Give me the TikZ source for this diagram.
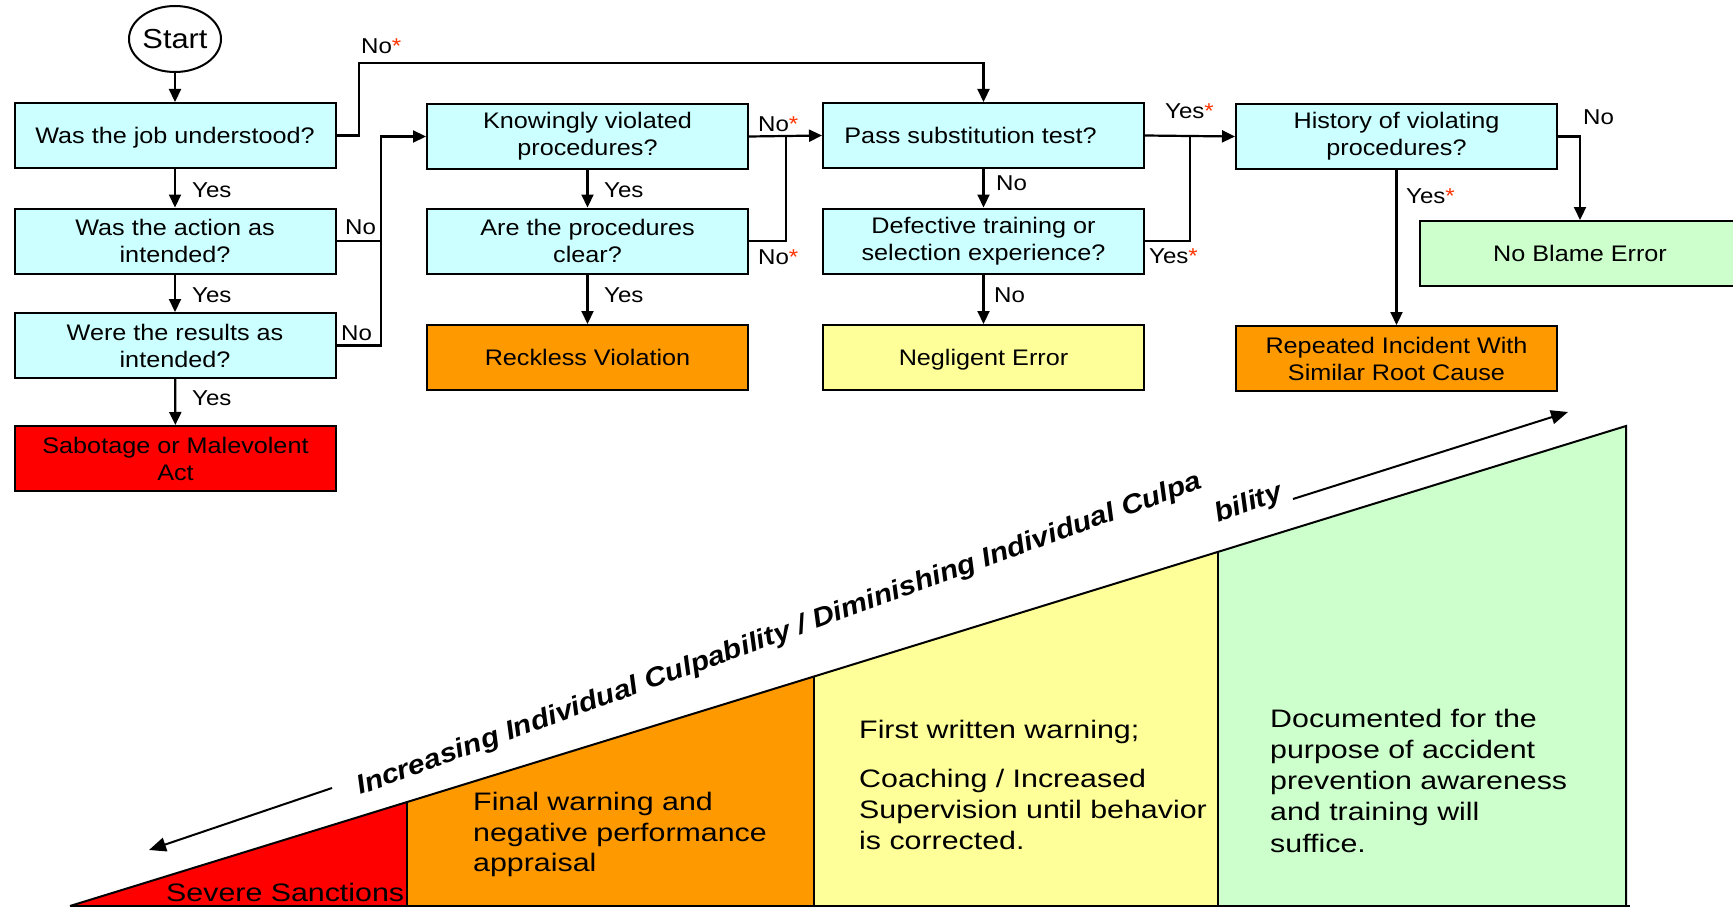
\documentclass[tikz,border=0pt]{standalone}
\usepackage{fontspec}
\setmainfont{Liberation Sans}[FakeStretch=1.12]
\newfontfamily\bodyfont{Liberation Sans}[FakeStretch=1.2]
\usetikzlibrary{arrows.meta,shapes.geometric}
\definecolor{qcyan}{HTML}{CCFFFF}
\definecolor{qorange}{HTML}{FF9900}
\definecolor{qyellow}{HTML}{FFFF99}
\definecolor{qgreen}{HTML}{CCFFCC}
\definecolor{qred}{HTML}{FF0000}
\definecolor{qstar}{HTML}{FF3300}
\newcommand{\qst}{{\color{qstar}*}}
\begin{document}
\begin{tikzpicture}[x=1pt,y=-1pt,
  box/.style={draw=black, line width=2pt, minimum width=321pt, minimum height=65pt,
    inner sep=0pt, align=center, font=\fontsize{22.5}{27}\selectfont},
  qbox/.style={box, fill=qcyan},
  one/.style={text height=16pt, text depth=0pt},
  conn/.style={line width=2.2pt},
  arr/.style={conn, -{Triangle[length=13pt,width=12pt]}},
  lab/.style={font=\fontsize{21.5}{24}\selectfont, inner sep=0pt, anchor=west},
  body/.style={font=\bodyfont\fontsize{25.3}{31}\selectfont, inner sep=0pt, anchor=base west},
  slope/.style={font=\bfseries\itshape\fontsize{26.8}{30}\selectfont, inner sep=0pt, anchor=base west, rotate=20},
  bigarr/.style={line width=2pt, -{Triangle[length=17pt,width=14pt]}},
  edge/.style={line width=2pt},
]
\useasboundingbox (0,0) rectangle (1733,907);
\clip (0,0) rectangle (1733,907);

% ---------- bottom staircase ----------
\coordinate (t0) at (70,906);
\coordinate (d1b) at (407,906);
\coordinate (d1t) at (407,802);
\coordinate (d2b) at (814,906);
\coordinate (d2t) at (814,676.5);
\coordinate (d3b) at (1218,906);
\coordinate (d3t) at (1218,552);
\coordinate (d4b) at (1626,906);
\coordinate (d4t) at (1626,426);
\coordinate (bend) at (1630,906);
\fill[qred] (t0) -- (d1t) -- (d1b) -- cycle;
\fill[qorange] (d1b) -- (d1t) -- (d2t) -- (d2b) -- cycle;
\fill[qyellow] (d2b) -- (d2t) -- (d3t) -- (d3b) -- cycle;
\fill[qgreen] (d3b) -- (d3t) -- (d4t) -- (d4b) -- cycle;
\draw[edge] (t0) -- (d4t) -- (d4b);
\draw[edge] (t0) -- (bend);
\draw[edge] (d1t) -- (d1b);
\draw[edge] (d2t) -- (d2b);
\draw[edge] (d3t) -- (d3b);

\node[body] (sev) at (166,901.5) {Severe Sanctions};
\node[body] (fw1) at (473,810.5) {Final warning and};
\node[body] (fw2) at (473,841.5) {negative performance};
\node[body] (fw3) at (473,871.5) {appraisal};
\node[body] (yw1) at (859,738) {First written warning;};
\node[body] (yw2) at (859,787) {Coaching / Increased};
\node[body] (yw3) at (859,818) {Supervision until behavior};
\node[body] (yw4) at (859,849) {is corrected.};
\node[body] (gw1) at (1270,727) {Documented for the};
\node[body] (gw2) at (1270,758) {purpose of accident};
\node[body] (gw3) at (1270,789) {prevention awareness};
\node[body] (gw4) at (1270,820) {and training will};
\node[body] (gw5) at (1270,852) {suffice.};

\node[slope] (sl1) at (360,795) {Increasing Individual Culpability / Diminishing Individual Culpa};
\node[slope] (sl2) at (1218,523) {bility};
\coordinate (la0) at (332,788);
\coordinate (la1) at (149,850);
\coordinate (ua0) at (1293,499);
\coordinate (ua1) at (1568,412);
\draw[bigarr] (la0) -- (la1);
\draw[bigarr] (ua0) -- (ua1);

% ---------- flowchart ----------
\node[ellipse, draw=black, line width=2pt, minimum width=92pt, minimum height=66pt, inner sep=0pt,
  font=\fontsize{27.5}{30}\selectfont] (start) at (175,39) {Start};
\node[qbox, one] (q1) at (175,135.5) {Was the job understood?};
\node[qbox] (q2) at (175,241) {Was the action as\\intended?};
\node[qbox] (q3) at (175,345.5) {Were the results as\\intended?};
\node[box, fill=qred] (sab) at (175.5,458.5) {Sabotage or Malevolent\\Act};

\node[qbox] (k1) at (587.5,136.5) {Knowingly violated\\procedures?};
\node[qbox] (k2) at (587.5,241) {Are the procedures\\clear?};
\node[box, fill=qorange, one] (reck) at (587.5,357.5) {Reckless Violation};

\node[qbox, one] (p1) at (983.5,135.5) {Pass substitution test?\hspace*{26pt}};
\node[qbox] (p2) at (983.5,241) {Defective training or\\selection experience?};
\node[box, fill=qyellow, one] (negl) at (983.5,357.5) {Negligent Error};

\node[qbox] (h1) at (1396.5,136.5) {History of violating\\procedures?};
\node[box, fill=qorange] (rep) at (1396.5,358.5) {Repeated Incident With\\Similar Root Cause};
\node[box, fill=qgreen, one] (nob) at (1580,253.5) {No Blame Error};

\coordinate (c1) at (359,63);
\coordinate (m1) at (381,241);
\coordinate (m2) at (786,136);
\coordinate (m3) at (1190,136);

\draw[arr] (start) -- (q1);
\draw[arr] (q1) -- (q2);
\draw[arr] (q2) -- (q3);
\draw[arr] (q3) -- (sab);
\draw[arr] (q1.east) -| (c1) -| (p1.north);
\draw[conn] (q2.east) -- (m1);
\draw[arr] (q3.east) -| (m1) |- (k1.west);
\draw[arr] (k1) -- (k2);
\draw[arr] (k2) -- (reck);
\draw[arr] (k1.east) -- (p1.west);
\draw[conn] (k2.east) -| (m2);
\draw[arr] (p1) -- (p2);
\draw[arr] (p2) -- (negl);
\draw[arr] (p1.east) -- (h1.west);
\draw[conn] (p2.east) -| (m3);
\draw[arr] (h1) -- (rep);
\draw[arr] (h1.east) -| (nob.north);

\node[lab] (y1) at (192,190) {Yes};
\node[lab] (y2) at (192,295) {Yes};
\node[lab] (y3) at (192,398) {Yes};
\node[lab] (n1) at (345,227) {No};
\node[lab] (n2) at (341,333) {No};
\node[lab] (n3) at (361,46) {No\qst};
\node[lab] (y4) at (604,190) {Yes};
\node[lab] (y5) at (604,295) {Yes};
\node[lab] (n4) at (758,124) {No\qst};
\node[lab] (n5) at (758,257) {No\qst};
\node[lab] (n6) at (996,183) {No};
\node[lab] (n7) at (994,295) {No};
\node[lab] (y6) at (1165,111) {Yes\qst};
\node[lab] (y7) at (1149,256) {Yes\qst};
\node[lab] (y8) at (1406,196) {Yes\qst};
\node[lab] (n8) at (1583,117) {No};
\end{tikzpicture}
\end{document}
